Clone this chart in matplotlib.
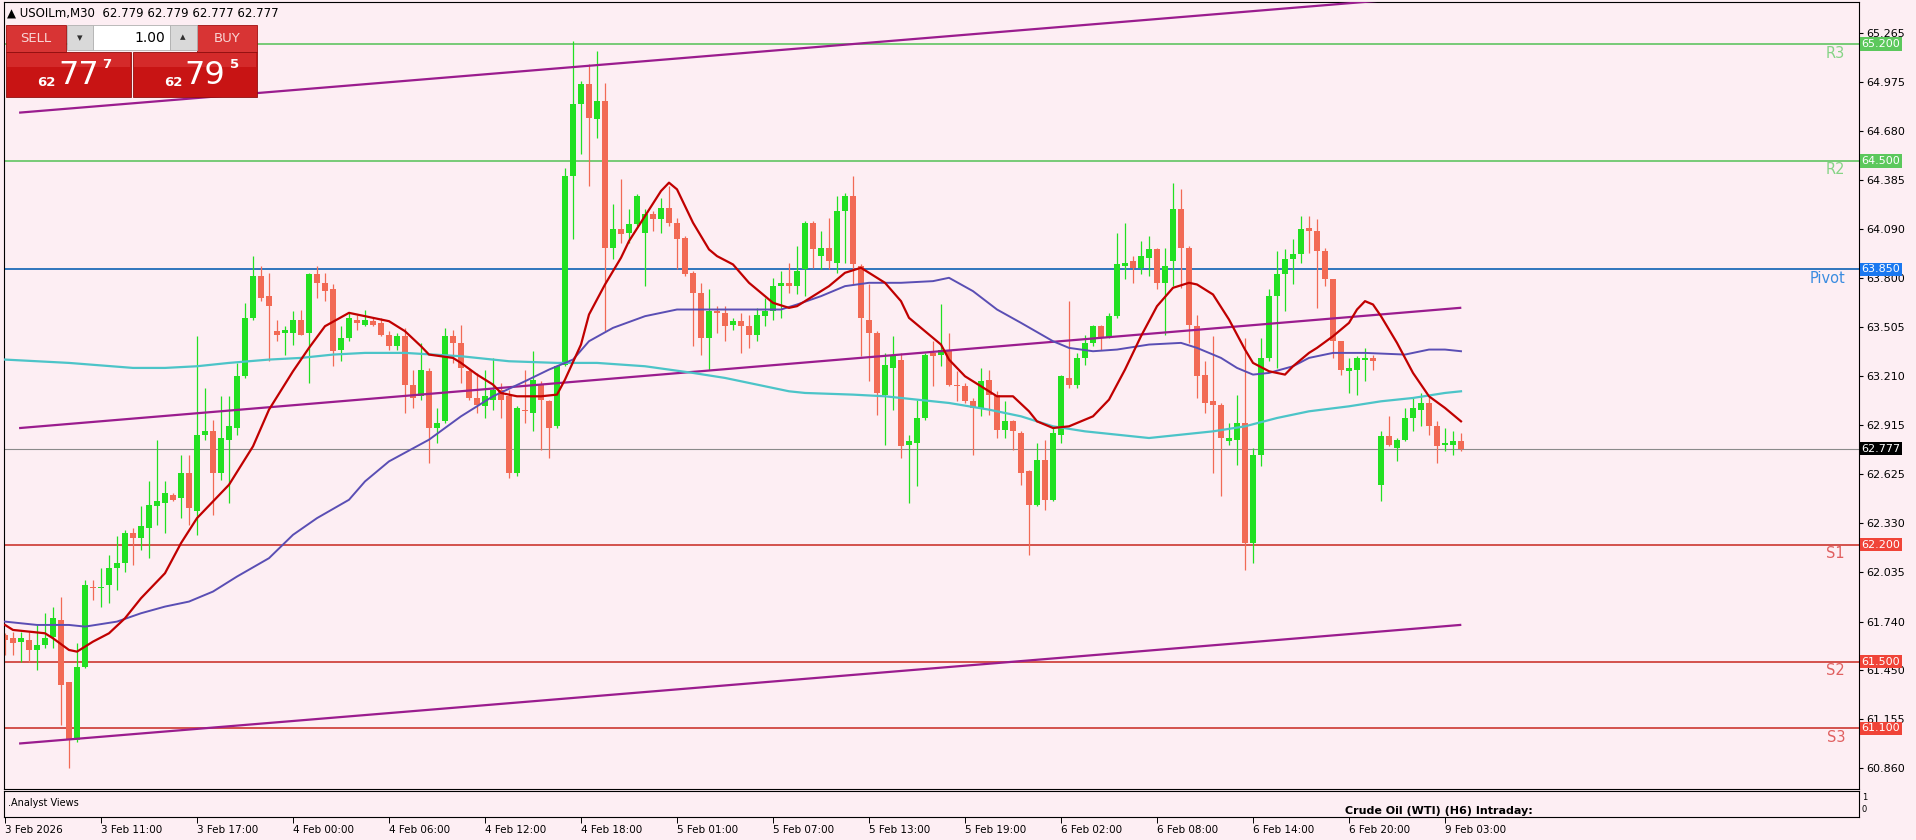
import numpy
from matplotlib import pyplot as plt
from matplotlib.patches import Rectangle
from matplotlib.transforms import blended_transform_factory

# USOILm M30 candles, bar index 0 = 3 Feb 05:00
opens  = [61.66, 61.64, 61.62, 61.63, 61.57, 61.60, 61.65, 61.75, 61.38, 61.03,
          61.47, 61.95, 61.94, 61.96, 62.06, 62.09, 62.27, 62.24, 62.30, 62.43,
          62.45, 62.50, 62.48, 62.63, 62.40, 62.86, 62.88, 62.63, 62.83, 62.90,
          63.21, 63.56, 63.81, 63.69, 63.48, 63.47, 63.47, 63.55, 63.47, 63.82,
          63.77, 63.73, 63.37, 63.44, 63.55, 63.52, 63.54, 63.53, 63.46, 63.39,
          63.45, 63.16, 63.09, 63.24, 62.90, 62.94, 63.45, 63.41, 63.24, 63.08,
          63.03, 63.07, 63.13, 63.09, 62.63, 63.01, 62.99, 63.16, 63.06, 62.91,
          63.28, 64.41, 64.84, 64.96, 64.75, 64.86, 63.98, 64.09, 64.07, 64.12,
          64.07, 64.18, 64.15, 64.22, 64.13, 64.04, 63.83, 63.71, 63.44, 63.60,
          63.59, 63.52, 63.54, 63.51, 63.46, 63.57, 63.60, 63.75, 63.77, 63.75,
          63.85, 64.13, 63.93, 63.98, 63.89, 64.20, 64.29, 63.87, 63.55, 63.47,
          63.10, 63.26, 63.31, 62.80, 62.81, 62.96, 63.35, 63.34, 63.37, 63.16,
          63.15, 63.06, 63.02, 63.19, 63.10, 62.89, 62.94, 62.87, 62.64, 62.44,
          62.71, 62.47, 62.86, 63.20, 63.16, 63.32, 63.41, 63.51, 63.44, 63.57,
          63.87, 63.90, 63.86, 63.92, 63.97, 63.77, 63.90, 64.21, 63.98, 63.51,
          63.22, 63.06, 63.04, 62.82, 62.83, 62.93, 62.21, 62.74, 63.32, 63.69,
          63.82, 63.91, 63.94, 64.10, 64.08, 63.96, 63.79, 63.42, 63.24, 63.25,
          63.31, 63.32, 62.56, 62.85, 62.78, 62.83, 62.96, 63.01, 63.05, 62.91,
          62.80, 62.80, 62.82]
highs  = [61.67, 61.68, 61.68, 61.68, 61.72, 61.79, 61.83, 61.89, 61.38, 61.61,
          61.99, 61.99, 62.06, 62.14, 62.25, 62.29, 62.30, 62.43, 62.58, 62.83,
          62.58, 62.51, 62.74, 62.74, 63.45, 63.14, 62.95, 63.09, 63.09, 63.29,
          63.65, 63.93, 63.87, 63.83, 63.55, 63.51, 63.60, 63.61, 63.83, 63.87,
          63.83, 63.76, 63.51, 63.59, 63.58, 63.61, 63.56, 63.56, 63.48, 63.47,
          63.50, 63.25, 63.41, 63.26, 63.02, 63.50, 63.49, 63.52, 63.26, 63.23,
          63.25, 63.32, 63.17, 63.13, 63.03, 63.25, 63.36, 63.18, 63.07, 63.28,
          64.46, 65.22, 64.98, 65.08, 65.16, 64.97, 64.24, 64.39, 64.21, 64.30,
          64.21, 64.20, 64.28, 64.35, 64.16, 64.05, 63.84, 63.77, 63.73, 63.63,
          63.63, 63.56, 63.59, 63.58, 63.62, 63.68, 63.80, 63.84, 63.89, 63.99,
          64.14, 64.14, 64.08, 64.16, 64.29, 64.31, 64.41, 63.88, 63.76, 63.48,
          63.35, 63.45, 63.35, 62.86, 63.07, 63.35, 63.42, 63.64, 63.47, 63.24,
          63.17, 63.08, 63.26, 63.25, 63.12, 63.06, 62.95, 62.88, 62.65, 62.81,
          62.83, 62.90, 63.22, 63.66, 63.35, 63.46, 63.52, 63.52, 63.59, 64.07,
          64.13, 63.93, 64.02, 64.05, 63.98, 63.98, 64.37, 64.33, 63.99, 63.58,
          63.30, 63.45, 63.05, 62.93, 63.10, 63.44, 62.78, 63.44, 63.73, 63.96,
          63.97, 64.03, 64.17, 64.17, 64.15, 63.98, 63.79, 63.42, 63.32, 63.33,
          63.38, 63.34, 62.88, 62.97, 62.84, 63.02, 63.08, 63.11, 63.10, 62.94,
          62.90, 62.88, 62.87]
lows   = [61.54, 61.54, 61.50, 61.50, 61.45, 61.58, 61.58, 61.12, 60.86, 61.02,
          61.46, 61.87, 61.83, 61.85, 61.93, 62.04, 62.08, 62.17, 62.12, 62.32,
          62.27, 62.46, 62.36, 62.32, 62.26, 62.83, 62.38, 62.59, 62.45, 62.86,
          63.20, 63.55, 63.66, 63.30, 63.42, 63.34, 63.40, 63.46, 63.17, 63.68,
          63.66, 63.27, 63.30, 63.42, 63.49, 63.51, 63.51, 63.45, 63.37, 63.37,
          62.99, 63.02, 63.07, 62.69, 62.81, 62.93, 63.29, 63.17, 63.07, 62.99,
          62.96, 63.01, 62.96, 62.60, 62.61, 62.93, 62.88, 62.77, 62.72, 62.90,
          63.27, 64.03, 64.54, 64.35, 64.64, 63.48, 63.91, 64.01, 64.01, 64.11,
          63.75, 64.08, 64.07, 64.11, 63.85, 63.81, 63.39, 63.34, 63.25, 63.47,
          63.42, 63.49, 63.35, 63.38, 63.42, 63.51, 63.55, 63.56, 63.71, 63.70,
          63.69, 63.86, 63.85, 63.85, 63.83, 63.89, 63.76, 63.33, 63.18, 62.98,
          62.80, 63.01, 62.72, 62.45, 62.55, 62.95, 63.15, 63.27, 63.15, 63.06,
          63.05, 62.74, 62.97, 62.98, 62.84, 62.84, 62.77, 62.56, 62.14, 62.43,
          62.41, 62.46, 62.81, 63.14, 63.14, 63.28, 63.39, 63.37, 63.44, 63.56,
          63.79, 63.77, 63.82, 63.81, 63.73, 63.46, 63.75, 63.74, 63.41, 63.08,
          62.99, 62.63, 62.49, 62.80, 62.68, 62.05, 62.09, 62.67, 63.30, 63.26,
          63.60, 63.76, 63.89, 63.95, 63.62, 63.75, 63.32, 63.22, 63.11, 63.10,
          63.18, 63.25, 62.46, 62.79, 62.70, 62.82, 62.88, 62.91, 62.86, 62.69,
          62.76, 62.74, 62.76]
closes = [61.63, 61.61, 61.64, 61.57, 61.60, 61.64, 61.76, 61.36, 61.03, 61.47,
          61.96, 61.94, 61.95, 62.06, 62.09, 62.27, 62.24, 62.31, 62.44, 62.46,
          62.51, 62.47, 62.63, 62.42, 62.86, 62.88, 62.63, 62.84, 62.91, 63.21,
          63.56, 63.81, 63.68, 63.63, 63.46, 63.49, 63.55, 63.46, 63.82, 63.77,
          63.72, 63.36, 63.44, 63.56, 63.53, 63.55, 63.52, 63.46, 63.39, 63.45,
          63.16, 63.08, 63.25, 62.90, 62.93, 63.45, 63.41, 63.26, 63.08, 63.04,
          63.09, 63.13, 63.07, 62.63, 63.02, 63.00, 63.19, 63.07, 62.90, 63.27,
          64.41, 64.84, 64.96, 64.76, 64.86, 63.98, 64.09, 64.06, 64.12, 64.29,
          64.18, 64.15, 64.22, 64.13, 64.03, 63.82, 63.71, 63.44, 63.60, 63.59,
          63.51, 63.54, 63.51, 63.46, 63.58, 63.60, 63.75, 63.77, 63.75, 63.84,
          64.13, 63.97, 63.98, 63.90, 64.20, 64.29, 63.88, 63.56, 63.47, 63.11,
          63.28, 63.33, 62.79, 62.82, 62.96, 63.34, 63.33, 63.37, 63.16, 63.15,
          63.06, 63.02, 63.18, 63.10, 62.89, 62.94, 62.88, 62.63, 62.44, 62.71,
          62.47, 62.87, 63.21, 63.16, 63.32, 63.41, 63.51, 63.44, 63.57, 63.88,
          63.89, 63.86, 63.93, 63.97, 63.77, 63.87, 64.21, 63.98, 63.52, 63.21,
          63.05, 63.04, 62.84, 62.84, 62.93, 62.21, 62.74, 63.32, 63.69, 63.82,
          63.91, 63.94, 64.09, 64.08, 63.96, 63.79, 63.42, 63.25, 63.26, 63.32,
          63.32, 63.30, 62.85, 62.80, 62.83, 62.96, 63.02, 63.05, 62.91, 62.79,
          62.81, 62.82, 62.777]

# moving averages (bar, price)
ma_red_x  = [0, 1, 3, 5, 6, 8, 9, 11, 13, 15, 17, 20, 22, 24, 26, 28, 31, 33, 36, 38,
             40, 43, 45, 47, 48, 50, 52, 53, 56, 57, 59, 61, 62, 64, 67, 69, 70, 72, 73, 75,
             77, 78, 80, 82, 83, 84, 86, 88, 89, 91, 93, 96, 98, 99, 101, 103, 105, 107, 108, 110,
             112, 113, 115, 117, 118, 120, 122, 124, 126, 128, 129, 131, 133, 134, 136, 138, 140, 142, 144, 146,
             148, 149, 151, 153, 155, 156, 158, 160, 161, 163, 164, 166, 168, 169, 170, 171, 172, 174, 176, 178,
             180, 182]
ma_red_y  = [61.72, 61.69, 61.68, 61.67, 61.64, 61.57, 61.56, 61.62, 61.67, 61.76, 61.88, 62.03, 62.21, 62.36, 62.46, 62.56, 62.79, 63.01, 63.24, 63.38,
             63.51, 63.59, 63.57, 63.55, 63.54, 63.48, 63.39, 63.34, 63.32, 63.29, 63.22, 63.16, 63.11, 63.09, 63.09, 63.10, 63.19, 63.40, 63.58, 63.76,
             63.92, 64.02, 64.17, 64.32, 64.37, 64.33, 64.13, 63.97, 63.93, 63.88, 63.77, 63.65, 63.62, 63.63, 63.69, 63.75, 63.83, 63.86, 63.83, 63.77,
             63.66, 63.56, 63.48, 63.40, 63.31, 63.21, 63.15, 63.09, 63.09, 63.00, 62.94, 62.90, 62.91, 62.93, 62.97, 63.07, 63.25, 63.45, 63.63, 63.74,
             63.77, 63.76, 63.70, 63.55, 63.37, 63.29, 63.24, 63.22, 63.27, 63.35, 63.38, 63.45, 63.53, 63.61, 63.66, 63.64, 63.57, 63.41, 63.23, 63.09,
             63.02, 62.94]
ma_blue_x = [0, 4, 8, 10, 14, 17, 20, 23, 26, 29, 33, 36, 39, 43, 45, 48, 53, 57, 61, 65,
             68, 71, 73, 76, 80, 84, 90, 97, 99, 102, 105, 108, 112, 116, 118, 121, 124, 127, 131, 133,
             136, 139, 143, 147, 149, 152, 154, 156, 158, 161, 163, 166, 170, 175, 178, 180, 182]
ma_blue_y = [61.74, 61.72, 61.72, 61.71, 61.74, 61.79, 61.83, 61.86, 61.92, 62.01, 62.12, 62.26, 62.36, 62.47, 62.58, 62.70, 62.83, 62.97, 63.09, 63.18,
             63.25, 63.31, 63.42, 63.50, 63.57, 63.61, 63.61, 63.61, 63.64, 63.69, 63.75, 63.77, 63.77, 63.78, 63.80, 63.72, 63.61, 63.53, 63.42, 63.38,
             63.36, 63.37, 63.40, 63.41, 63.38, 63.32, 63.26, 63.22, 63.23, 63.27, 63.32, 63.35, 63.35, 63.34, 63.37, 63.37, 63.36]
ma_cyan_x = [0, 8, 16, 20, 24, 28, 33, 37, 41, 45, 50, 57, 63, 69, 74, 80, 86, 90, 94, 98,
             100, 106, 110, 114, 118, 123, 127, 131, 135, 139, 143, 147, 151, 155, 159, 163, 168, 172, 176, 180,
             182]
ma_cyan_y = [63.31, 63.29, 63.26, 63.26, 63.27, 63.29, 63.31, 63.32, 63.34, 63.35, 63.35, 63.33, 63.30, 63.29, 63.29, 63.27, 63.23, 63.20, 63.16, 63.12,
             63.11, 63.10, 63.09, 63.07, 63.05, 63.01, 62.97, 62.91, 62.88, 62.86, 62.84, 62.86, 62.88, 62.91, 62.96, 63.00, 63.03, 63.06, 63.08, 63.11,
             63.12]

# trend channel (bar, price at both ends)
chan_x      = [1.9, 181.9]
chan_upper  = [64.79, 65.50]
chan_middle = [62.90, 63.62]
chan_lower  = [61.01, 61.72]

# pivot levels
level_names  = ['R3', 'R2', 'Pivot', 'S1', 'S2', 'S3']
level_prices = [65.20, 64.50, 63.85, 62.20, 61.50, 61.10]
last_price   = 62.777

price_ticks = [65.265, 64.975, 64.680, 64.385, 64.090, 63.800, 63.505, 63.210,
               62.915, 62.625, 62.330, 62.035, 61.740, 61.450, 61.155, 60.860]
time_ticks  = list(range(0, 181, 12))
time_labels = ['3 Feb 2026', '3 Feb 11:00', '3 Feb 17:00', '4 Feb 00:00', '4 Feb 06:00',
               '4 Feb 12:00', '4 Feb 18:00', '5 Feb 01:00', '5 Feb 07:00', '5 Feb 13:00',
               '5 Feb 19:00', '6 Feb 02:00', '6 Feb 08:00', '6 Feb 14:00', '6 Feb 20:00',
               '9 Feb 03:00']

BG       = '#fdeef3'
UP       = '#22e022'
DOWN     = '#f26a55'
W, H     = 1916, 840

plt.rcParams['font.family'] = ['DejaVu Sans']

fig = plt.figure(figsize=(W/100, H/100), dpi=100)
fig.patch.set_facecolor(BG)

def px_axes(x0, y0, x1, y1):
  """axes placed by pixel box, y counted from the top"""
  return fig.add_axes([x0/W, 1 - y1/H, (x1 - x0)/W, (y1 - y0)/H])

ax = px_axes(4, 2, 1859, 789)
ax.set_facecolor(BG)
ax.set_xlim(-0.125, 231.75)
ax.set_ylim(60.737, 65.4525)
for s in ax.spines.values():
  s.set_linewidth(0.8)

# ---- candles
o = numpy.asarray(opens)
h = numpy.asarray(highs)
l = numpy.asarray(lows)
c = numpy.asarray(closes)
x = numpy.arange(len(o))
cols = numpy.where(c >= o, UP, DOWN)
ax.vlines(x, l, h, colors=cols, linewidth=0.9, zorder=2)
ax.bar(x, numpy.maximum(numpy.abs(c - o), 0.008), bottom=numpy.minimum(o, c),
       width=0.72, color=cols, linewidth=0, zorder=2)

# ---- levels
lev_cols  = ['#6cc86c', '#6cc86c', '#1f6cb8', '#d0453f', '#d0453f', '#d0453f']
txt_cols  = ['#86d486', '#86d486', '#3a8ce0', '#e06060', '#e06060', '#e06060']
box_cols  = ['#5cc85c', '#5cc85c', '#1a78f0', '#f04438', '#f04438', '#f04438']
blend = blended_transform_factory(ax.transAxes, ax.transData)
for name, lv, lc, tc, bc in zip(level_names, level_prices, lev_cols, txt_cols, box_cols):
  ax.axhline(lv, color=lc, linewidth=1.3, zorder=1)
  ax.annotate(name, xy=(0.9925, lv), xycoords=blend, xytext=(0, -1), textcoords='offset points',
              ha='right', va='top', color=tc, fontsize=10.5)
  ax.text(1.0012, lv, '%.3f' % lv, transform=blend, ha='left', va='center', color='white',
          fontsize=8, clip_on=False, zorder=5,
          bbox=dict(boxstyle='square,pad=0.15', fc=bc, ec='none'))
ax.axhline(last_price, color='#8a8a8a', linewidth=0.8, zorder=1)
ax.text(1.0012, last_price, '%.3f' % last_price, transform=blend, ha='left', va='center',
        color='white', fontsize=8, clip_on=False, zorder=5,
        bbox=dict(boxstyle='square,pad=0.15', fc='black', ec='none'))

# ---- channel and averages
for yy in (chan_upper, chan_middle, chan_lower):
  ax.plot(chan_x, yy, color='#9a1c8e', linewidth=1.6, zorder=3)
ax.plot(ma_cyan_x, ma_cyan_y, color='#4cc4c8', linewidth=1.6, zorder=3)
ax.plot(ma_blue_x, ma_blue_y, color='#5a4eb4', linewidth=1.4, zorder=3)
ax.plot(ma_red_x, ma_red_y, color='#c00000', linewidth=1.6, zorder=3)

# ---- price scale
ax.yaxis.tick_right()
ax.set_yticks(price_ticks)
ax.set_yticklabels(['%.3f' % p for p in price_ticks])
ax.tick_params(axis='y', length=3, width=0.8, pad=2, labelsize=8, colors='black')
ax.set_xticks([])

# ---- indicator sub window
sub = px_axes(4, 791, 1859, 817)
sub.set_facecolor(BG)
sub.set_xlim(ax.get_xlim())
sub.set_ylim(0, 1)
sub.set_yticks([])
sub.set_xticks(time_ticks)
sub.set_xticklabels(time_labels, ha='left')
sub.tick_params(axis='x', length=4, width=0.7, pad=1.5, labelsize=7.5)
for s in sub.spines.values():
  s.set_linewidth(0.8)
sub.text(0.002, 0.55, '.Analyst Views', transform=sub.transAxes, fontsize=7, va='center')
sub.text(167.5, 0.05, 'Crude Oil (WTI) (H6) Intraday:', fontsize=8, fontweight='bold', va='bottom')
sub.text(1.0015, 0.75, '1', transform=sub.transAxes, fontsize=6, va='center')
sub.text(1.0015, 0.3, '0', transform=sub.transAxes, fontsize=6, va='center')

# ---- overlay: title and one-click trading panel
ui = fig.add_axes([0, 0, 1, 1], zorder=10)
ui.set_xlim(0, W)
ui.set_ylim(H, 0)
ui.axis('off')

ui.text(7, 13, '\u25b2 USOILm,M30  62.779 62.779 62.777 62.777', fontsize=8.5, va='center')

ui.add_patch(Rectangle((6, 25), 60, 27, fc='#d83434', ec='#a01010', lw=0.6))
ui.add_patch(Rectangle((197, 25), 60, 27, fc='#d83434', ec='#a01010', lw=0.6))
ui.add_patch(Rectangle((67, 25), 26, 25, fc='#d9d9d9', ec='#b0b0b0', lw=0.6))
ui.add_patch(Rectangle((93, 25), 77, 25, fc='white', ec='#b0b0b0', lw=0.6))
ui.add_patch(Rectangle((170, 25), 27, 25, fc='#d9d9d9', ec='#b0b0b0', lw=0.6))
ui.add_patch(Rectangle((6, 52), 125, 45, fc='#c81414', ec='#901010', lw=0.6))
ui.add_patch(Rectangle((133, 52), 124, 45, fc='#c81414', ec='#901010', lw=0.6))
ui.add_patch(Rectangle((7, 53), 123, 14, fc='#d42a2a', ec='none'))
ui.add_patch(Rectangle((134, 53), 122, 14, fc='#d42a2a', ec='none'))

ui.text(36, 39, 'SELL', fontsize=9.5, color='#f8d4d4', ha='center', va='center')
ui.text(227, 39, 'BUY', fontsize=9.5, color='#f8d4d4', ha='center', va='center')
ui.text(80, 38, '\u25be', fontsize=8, color='#303030', ha='center', va='center')
ui.text(183, 37, '\u25b4', fontsize=8, color='#303030', ha='center', va='center')
ui.text(165, 38, '1.00', fontsize=10, color='black', ha='right', va='center')
ui.text(46, 82, '62', fontsize=9.5, fontweight='bold', color='white', ha='center', va='center')
ui.text(79, 76, '77', fontsize=23, color='white', ha='center', va='center')
ui.text(107, 65, '7', fontsize=9.5, fontweight='bold', color='white', ha='center', va='center')
ui.text(173, 82, '62', fontsize=9.5, fontweight='bold', color='white', ha='center', va='center')
ui.text(205, 76, '79', fontsize=23, color='white', ha='center', va='center')
ui.text(235, 65, '5', fontsize=9.5, fontweight='bold', color='white', ha='center', va='center')

fig.savefig('out.png', dpi=100, facecolor=BG)
